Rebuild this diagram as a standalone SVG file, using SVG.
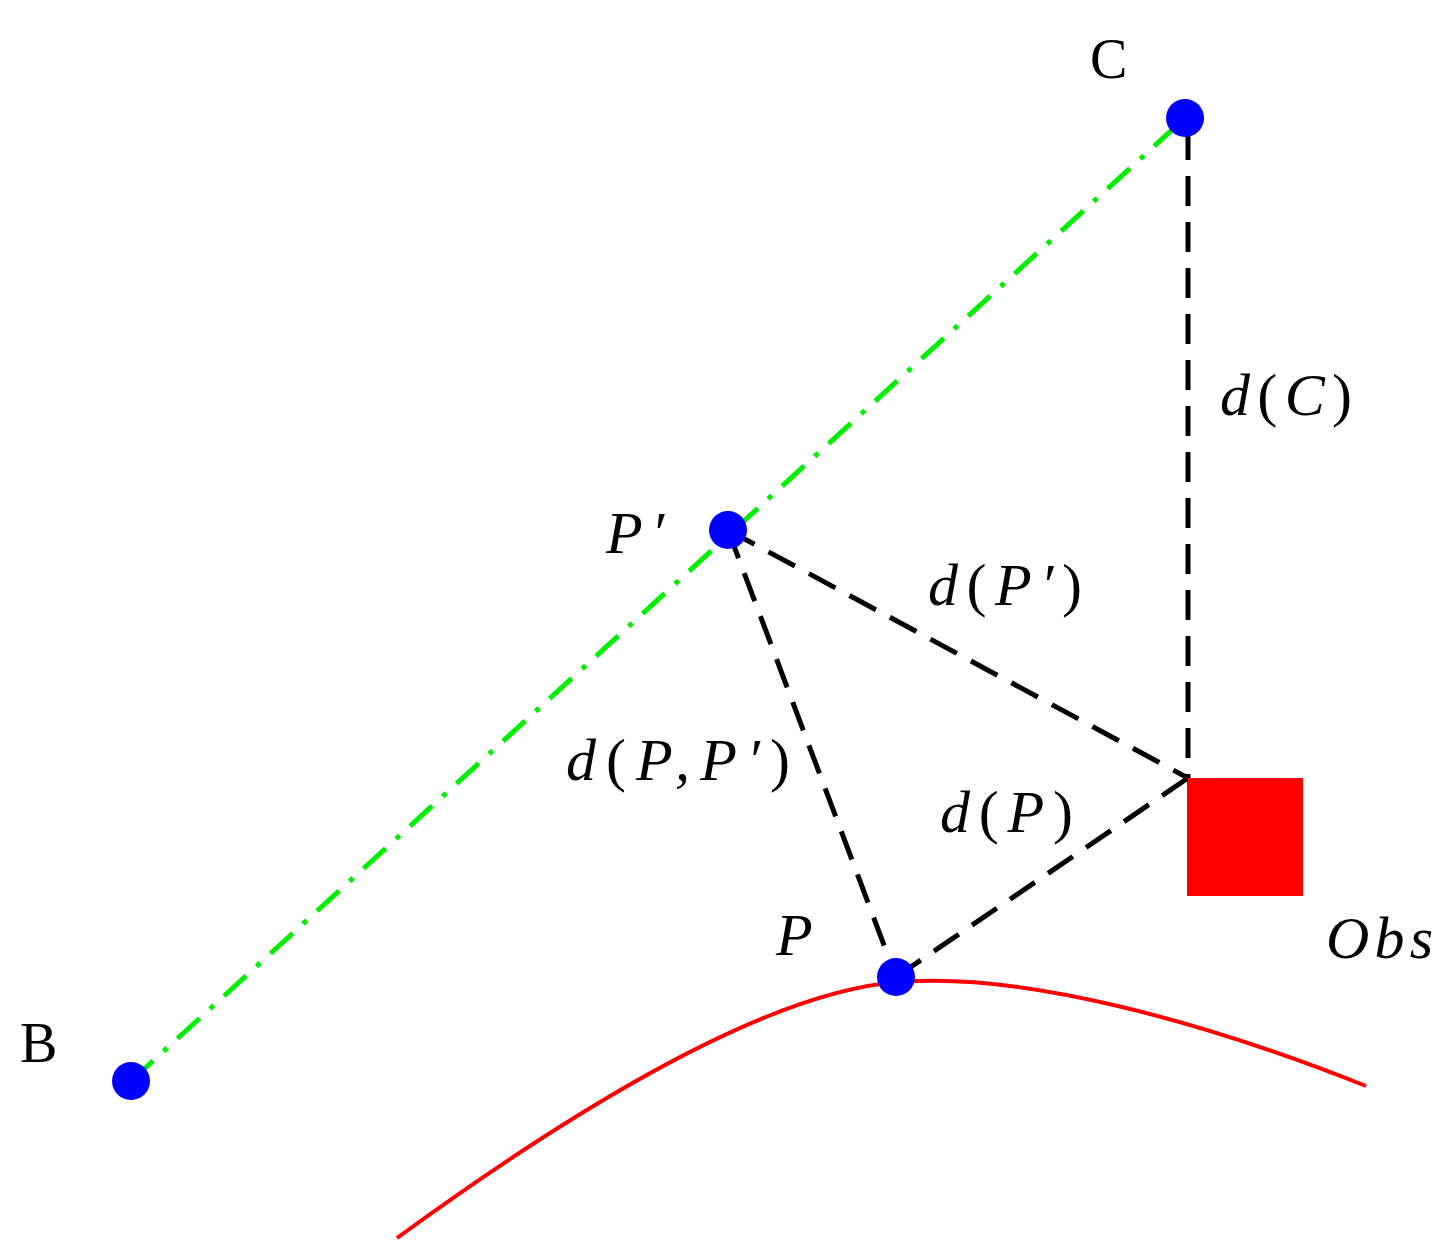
<svg xmlns="http://www.w3.org/2000/svg" width="1443" height="1259" viewBox="0 0 1443 1259">
<style>
.dash{stroke:#000;stroke-width:5;stroke-dasharray:30 16;fill:none}
.dd{stroke:#00ee00;stroke-width:5;stroke-dasharray:30 14 5 14;fill:none}
.pt{fill:#0000ff}
.lbl{font-family:"Liberation Serif","DejaVu Serif",serif;font-size:56px;fill:#000}
.math{font-family:"Liberation Serif","DejaVu Serif",serif;font-style:italic;font-size:60px;fill:#000}
.up{font-style:normal}
</style>
<rect width="1443" height="1259" fill="#fff"/>
<g id="curve"><path d="M397,1238 C600,1090 780,990 900,982 C1020,972 1200,1020 1366,1086" stroke="#ff0000" stroke-width="4" fill="none"/></g>
<g id="obstacle"><rect x="1187" y="778" width="116" height="118" fill="#ff0000"/></g>
<g id="connectors">
<line class="dd" x1="131" y1="1081" x2="1185" y2="118"/>
<line class="dash" x1="1188" y1="130" x2="1188" y2="778"/>
<line class="dash" x1="728" y1="530" x2="1188" y2="778"/>
<line class="dash" x1="896" y1="977" x2="1188" y2="778"/>
<line class="dash" x1="728" y1="530" x2="896" y2="977"/>
</g>
<g id="C"><circle class="pt" cx="1185" cy="118" r="19"/><text class="lbl" x="1090" y="78">C</text></g>
<g id="B"><circle class="pt" cx="131" cy="1081" r="19"/><text class="lbl" x="20" y="1062">B</text></g>
<g id="Pp"><circle class="pt" cx="728" cy="530" r="19"/><text class="math" x="606" y="553" textLength="58" lengthAdjust="spacing">P′</text></g>
<g id="P"><circle class="pt" cx="896" cy="977" r="19"/><text class="math" x="776" y="955">P</text></g>
<g id="labels">
<text class="math" x="1220" y="415" textLength="132" lengthAdjust="spacing">d<tspan class="up">(</tspan>C<tspan class="up">)</tspan></text>
<text class="math" x="928" y="605" textLength="154" lengthAdjust="spacing">d<tspan class="up">(</tspan>P′<tspan class="up">)</tspan></text>
<text class="math" x="566" y="780" textLength="224" lengthAdjust="spacing">d<tspan class="up">(</tspan>P,P′<tspan class="up">)</tspan></text>
<text class="math" x="940" y="832" textLength="133" lengthAdjust="spacing">d<tspan class="up">(</tspan>P<tspan class="up">)</tspan></text>
<text class="math" x="1326" y="958" textLength="107" lengthAdjust="spacing">Obs</text>
</g>
</svg>
